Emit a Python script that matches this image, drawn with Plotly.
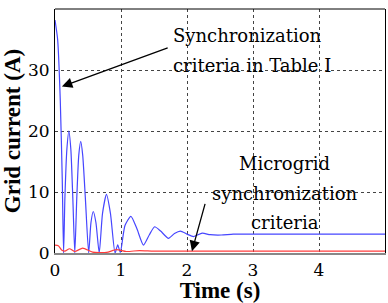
import plotly.graph_objects as go

# Blue: grid current with Table I criteria (A)
t_blue = [0.0, 0.04, 0.08, 0.11, 0.13, 0.15, 0.18, 0.21, 0.24, 0.27, 0.30,
          0.33, 0.36, 0.39, 0.42, 0.46, 0.51, 0.545, 0.58, 0.62, 0.67,
          0.72, 0.78, 0.84, 0.91, 0.95, 0.99, 1.06, 1.15, 1.24, 1.34,
          1.43, 1.51, 1.6, 1.72, 1.81, 1.90, 2.0, 2.1, 2.23, 2.35, 2.52,
          2.7, 3.0, 4.0, 5.0]
i_blue = [38.2, 35.0, 25.0, 12.0, 0.0, 9.0, 17.0, 20.0, 17.0, 9.0, 0.0,
          9.0, 16.0, 18.3, 16.0, 9.0, 0.0, 5.0, 6.8, 5.0, 0.0,
          6.5, 9.6, 6.5, 0.0, 1.35, 0.1, 4.5, 6.0, 4.0, 1.3,
          3.0, 4.3, 3.6, 2.4, 3.2, 3.6, 3.1, 2.7, 3.25, 3.0, 2.95,
          3.1, 3.1, 3.1, 3.1]

# Red: grid current with microgrid synchronization criteria (A)
t_red = [0.0, 0.05, 0.10, 0.15, 0.22, 0.30, 0.42, 0.57, 0.78, 0.93, 1.08,
         1.28, 1.5, 2.0, 3.0, 4.0, 5.0]
i_red = [1.3, 1.2, 0.5, 0.3, 0.7, 0.25, 0.8, 0.15, 0.1, 0.55, 0.25,
         0.4, 0.3, 0.3, 0.3, 0.3, 0.3]

x_ticks = [0, 1, 2, 3, 4, 5]
y_ticks = [0, 10, 20, 30, 40]

label1_lines = ["Synchronization", "criteria in Table I"]
label2_lines = ["Microgrid", "synchronization", "criteria"]

FONT_B = "Liberation Serif"
FONT_R = "DejaVu Serif"

fig = go.Figure()
fig.add_trace(go.Scatter(x=t_blue, y=i_blue, mode="lines",
                         line=dict(color="rgb(70,70,255)", width=1.2, shape="spline", smoothing=0.6),
                         showlegend=False))
fig.add_trace(go.Scatter(x=t_red, y=i_red, mode="lines",
                         line=dict(color="rgb(255,60,60)", width=1.2, shape="spline", smoothing=0.6),
                         showlegend=False))

# Arrows
fig.add_annotation(x=0.105, y=27.3, ax=1.73, ay=33.7, xref="x", yref="y",
                   axref="x", ayref="y", text="", showarrow=True,
                   arrowhead=2, arrowsize=1.6, arrowwidth=1.3, arrowcolor="black")
fig.add_annotation(x=2.075, y=0.3, ax=2.28, ay=8.3, xref="x", yref="y",
                   axref="x", ayref="y", text="", showarrow=True,
                   arrowhead=2, arrowsize=1.6, arrowwidth=1.3, arrowcolor="black")

# Texts (one annotation per line to control spacing)
for txt, yv in zip(label1_lines, [35.6, 30.8]):
    fig.add_annotation(x=1.75, y=yv, xref="x", yref="y", xanchor="left", yanchor="middle",
                       text=txt, showarrow=False,
                       font=dict(family=FONT_R, size=18, color="black"))
for txt, yv in zip(label2_lines, [14.6, 9.8, 5.0]):
    fig.add_annotation(x=3.48, y=yv, xref="x", yref="y", xanchor="center", yanchor="middle",
                       text=txt, showarrow=False,
                       font=dict(family=FONT_R, size=18, color="black"))

# top frame
fig.add_shape(type="line", xref="paper", yref="paper", x0=0, x1=1, y0=1, y1=1,
              line=dict(color="black", width=1))

fig.update_layout(
    width=388, height=303,
    margin=dict(l=55, r=2, t=9, b=48),
    plot_bgcolor="white", paper_bgcolor="white",
    font=dict(family=FONT_R, size=17, color="black"),
    xaxis=dict(range=[0, 5], tickvals=x_ticks, ticktext=[str(v) for v in x_ticks],
               showgrid=True, gridcolor="#444", griddash="dot", gridwidth=1,
               showline=True, linecolor="#888", linewidth=2, zeroline=False,
               ticks="", ticklabelstandoff=1, tickfont=dict(family=FONT_R, size=17),
               title=dict(text="<b>Time (s)</b>", font=dict(family=FONT_B, size=23), standoff=4)),
    yaxis=dict(range=[0, 40], tickvals=y_ticks, ticktext=[str(v) for v in y_ticks],
               showgrid=True, gridcolor="#444", griddash="dot", gridwidth=1,
               showline=True, linecolor="black", linewidth=1, mirror=True, zeroline=False,
               ticks="", ticklabelstandoff=1, tickfont=dict(family=FONT_R, size=17),
               title=dict(text="<b>Grid current (A)</b>", font=dict(family=FONT_B, size=23), standoff=4)),
)

fig.write_html("out.html", config={"displayModeBar": False},
               post_script="document.body.style.margin='0';document.body.style.padding='0';")
